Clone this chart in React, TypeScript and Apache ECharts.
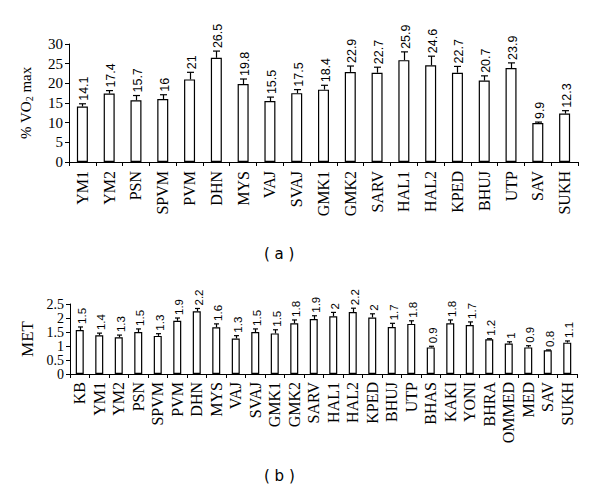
import React, { useEffect, useRef } from "react";
import * as echarts from "echarts";

// Panel (a): % VO2 max
const catsA = ["YM1", "YM2", "PSN", "SPVM", "PVM", "DHN", "MYS", "VAJ", "SVAJ", "GMK1", "GMK2", "SARV", "HAL1", "HAL2", "KPED", "BHUJ", "UTP", "SAV", "SUKH"];
const vo2Means = [14.1, 17.4, 15.7, 16, 21, 26.5, 19.8, 15.5, 17.5, 18.4, 22.9, 22.7, 25.9, 24.6, 22.7, 20.7, 23.9, 9.9, 12.3];
const vo2Errors = [0.7, 0.75, 1.2, 1.1, 1.8, 1.7, 1.3, 1.0, 0.9, 1.1, 1.5, 1.4, 2.1, 2.3, 1.6, 1.2, 1.3, 0.25, 0.75];
const vo2Labels = ["14.1", "17.4", "15.7", "16", "21", "26.5", "19.8", "15.5", "17.5", "18.4", "22.9", "22.7", "25.9", "24.6", "22.7", "20.7", "23.9", "9.9", "12.3"];
const vo2Ticks = { min: 0, max: 30, interval: 5 };

// Panel (b): MET
const catsB = ["KB", "YM1", "YM2", "PSN", "SPVM", "PVM", "DHN", "MYS", "VAJ", "SVAJ", "GMK1", "GMK2", "SARV", "HAL1", "HAL2", "KPED", "BHUJ", "UTP", "BHAS", "KAKI", "YONI", "BHRA", "OMMED", "MED", "SAV", "SUKH"];
const metMeans = [1.57, 1.38, 1.31, 1.5, 1.36, 1.9, 2.24, 1.67, 1.27, 1.5, 1.45, 1.81, 1.96, 2.06, 2.21, 2.02, 1.68, 1.79, 0.95, 1.81, 1.75, 1.24, 1.09, 0.95, 0.85, 1.12];
const metErrors = [0.11, 0.08, 0.08, 0.11, 0.08, 0.1, 0.1, 0.12, 0.1, 0.11, 0.13, 0.12, 0.12, 0.14, 0.14, 0.13, 0.13, 0.11, 0.04, 0.12, 0.11, 0.02, 0.06, 0.06, 0.01, 0.06];
const metLabels = ["1.5", "1.4", "1.3", "1.5", "1.3", "1.9", "2.2", "1.6", "1.3", "1.5", "1.5", "1.8", "1.9", "2", "2.2", "2", "1.7", "1.8", "0.9", "1.8", "1.7", "1.2", "1", "0.9", "0.8", "1.1"];
const metTicks = { min: 0, max: 2.5, interval: 0.5 };

const SERIF = "Liberation Serif, Times New Roman, serif";
const LABEL_FONT = "Liberation Sans, Arial, sans-serif";

function errorSeries(gridIdx: number, means: number[], errs: number[], labels: string[], capW: number, fontSize: number) {
  return {
    type: "custom",
    xAxisIndex: gridIdx,
    yAxisIndex: gridIdx,
    silent: true,
    z: 5,
    data: means.map((m, i) => [i, m, errs[i]]),
    renderItem: (params: any, api: any) => {
      const i = api.value(0);
      const m = api.value(1);
      const e = api.value(2);
      const top = api.coord([i, m]);
      const cap = api.coord([i, m + e]);
      const x = Math.round(top[0]) + 0.5;
      const lineStyle = { stroke: "#000", lineWidth: 1.2 };
      return {
        type: "group",
        children: [
          { type: "line", shape: { x1: x, y1: top[1], x2: x, y2: cap[1] }, style: lineStyle },
          { type: "line", shape: { x1: x - capW / 2, y1: cap[1], x2: x + capW / 2, y2: cap[1] }, style: lineStyle },
          {
            type: "text",
            x: x + 1,
            y: cap[1] - 3,
            rotation: Math.PI / 2,
            style: {
              text: labels[params.dataIndex],
              fill: "#000",
              fontFamily: LABEL_FONT,
              fontSize,
              align: "left",
              verticalAlign: "middle",
            },
          },
        ],
      };
    },
  };
}

export default function App() {
  const ref = useRef<HTMLDivElement>(null);
  useEffect(() => {
    if (!ref.current) return;
    const chart = echarts.init(ref.current, null, { renderer: "svg" });
    const axisLine = { show: true, lineStyle: { color: "#000", width: 1 } };
    const axisTick = { show: true, length: 4, lineStyle: { color: "#000", width: 1 } };
    const option: any = {
      animation: false,
      backgroundColor: "#fff",
      grid: [
        { left: 69, right: 22, top: 44, height: 118, containLabel: false },
        { left: 70, right: 23, top: 304, height: 70, containLabel: false },
      ],
      xAxis: [
        {
          type: "category",
          gridIndex: 0,
          data: catsA,
          axisLine,
          axisTick: { ...axisTick, alignWithLabel: false },
          axisLabel: { rotate: 90, interval: 0, margin: 9, color: "#000", fontFamily: SERIF, fontSize: 16 },
        },
        {
          type: "category",
          gridIndex: 1,
          data: catsB,
          axisLine,
          axisTick: { ...axisTick, alignWithLabel: false },
          axisLabel: { rotate: 90, interval: 0, margin: 8, color: "#000", fontFamily: SERIF, fontSize: 16 },
        },
      ],
      yAxis: [
        {
          type: "value",
          gridIndex: 0,
          min: vo2Ticks.min,
          max: vo2Ticks.max,
          interval: vo2Ticks.interval,
          axisLine,
          axisTick,
          splitLine: { show: false },
          axisLabel: { color: "#000", fontFamily: SERIF, fontSize: 15, margin: 6 },
          name: "% VO{sub|2} max",
          nameLocation: "middle",
          nameRotate: 90,
          nameGap: 35,
          nameTextStyle: {
            color: "#000",
            fontFamily: SERIF,
            fontSize: 15,
            rich: { sub: { fontSize: 10, verticalAlign: "bottom", padding: [6, 0, 0, 0], fontFamily: SERIF, color: "#000" } },
          },
        },
        {
          type: "value",
          gridIndex: 1,
          min: metTicks.min,
          max: metTicks.max,
          interval: metTicks.interval,
          axisLine,
          axisTick,
          splitLine: { show: false },
          axisLabel: { color: "#000", fontFamily: SERIF, fontSize: 14, margin: 6 },
          name: "MET",
          nameLocation: "middle",
          nameRotate: 90,
          nameGap: 33,
          nameTextStyle: { color: "#000", fontFamily: SERIF, fontSize: 17 },
        },
      ],
      series: [
        {
          type: "bar",
          xAxisIndex: 0,
          yAxisIndex: 0,
          data: vo2Means,
          barWidth: 11,
          itemStyle: { color: "#fff", borderColor: "#000", borderWidth: 1.2 },
        },
        errorSeries(0, vo2Means, vo2Errors, vo2Labels, 7, 12.5),
        {
          type: "bar",
          xAxisIndex: 1,
          yAxisIndex: 1,
          data: metMeans,
          barWidth: 8,
          itemStyle: { color: "#fff", borderColor: "#000", borderWidth: 1.2 },
        },
        errorSeries(1, metMeans, metErrors, metLabels, 5, 11.5),
      ],
      graphic: [
        { type: "text", left: 264, top: 246, style: { text: "( a )", font: "15px DejaVu Sans, sans-serif", fill: "#000" } },
        { type: "text", left: 264, top: 468, style: { text: "( b )", font: "15px DejaVu Sans, sans-serif", fill: "#000" } },
      ],
    };
    chart.setOption(option);
    return () => chart.dispose();
  }, []);
  return <div ref={ref} style={{ position: "fixed", left: 0, top: 0, width: 600, height: 492 }} />;
}
